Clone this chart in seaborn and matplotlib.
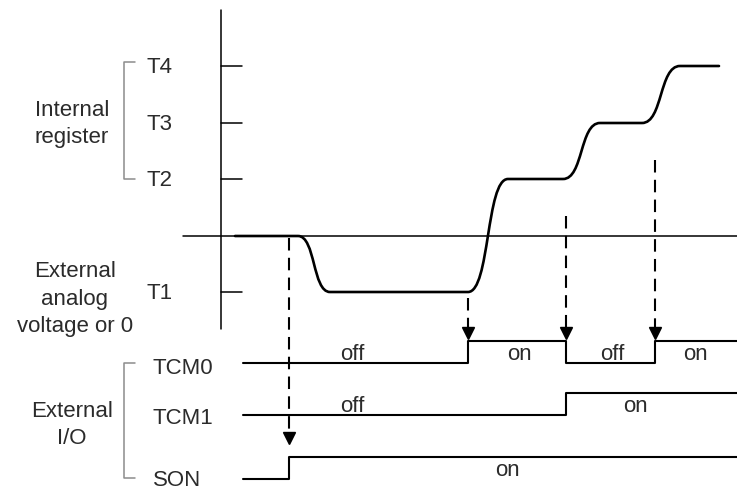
import numpy as np
import pandas as pd
import matplotlib
matplotlib.use("Agg")
import matplotlib.pyplot as plt
import seaborn as sns
from matplotlib.path import Path
from matplotlib.patches import PathPatch

# levels of the internal register / analog input (y in picture units)
level_names = ["T4", "T3", "T2", "T1"]
level_y = [66, 123, 179, 292]
zero_y = 236

# torque curve: plateau corners (time, level)
curve_t = [235, 298, 330, 468, 508, 563, 600, 642, 680, 719]
curve_y = [236, 236, 292, 292, 179, 179, 123, 123, 66, 66]

# digital signals
signal_names = ["TCM0", "TCM1", "SON"]
tcm0_t = [243, 468, 566, 655, 737]
tcm0_on = [0, 1, 0, 1, 1]
tcm1_t = [243, 566, 737]
tcm1_on = [0, 1, 1]
son_t = [243, 289, 737]
son_on = [0, 1, 1]
signal_low = [363, 415, 479]
signal_step = 22

tcm0_text = [(352, "off"), (519, "on"), (612, "off"), (695, "on")]
tcm1_text = [(352, "off"), (635, "on")]
son_text = [(507, "on")]

# dashed trigger arrows
arrow_x = [289, 468, 566, 655]
arrow_from = [238, 298, 216, 160]
arrow_to = [443, 338, 338, 338]

sns.set_style("white")
plt.rcParams["font.family"] = ["Liberation Sans", "DejaVu Sans"]
txt = "#2b2b2b"
grey = "#8c8c8c"
fs = 16

fig = plt.figure(figsize=(7.37, 4.95), dpi=100)
ax = fig.add_axes([0, 0, 1, 1])

# step signals
rows = []
for name, ts, ons, low in zip(signal_names, [tcm0_t, tcm1_t, son_t],
                              [tcm0_on, tcm1_on, son_on], signal_low):
    for t, o in zip(ts, ons):
        rows.append({"signal": name, "t": t, "y": low - o * signal_step})
sig = pd.DataFrame(rows)
sns.lineplot(data=sig, x="t", y="y", hue="signal", units="signal", estimator=None,
             sort=False, drawstyle="steps-post", palette=["black"] * 3,
             lw=1.5, legend=False, ax=ax)
ax.set_xlim(0, 737)
ax.set_ylim(495, 0)
ax.axis("off")

# axes of the analog part
ax.plot([221, 221], [10, 329], color="black", lw=1.1)
ax.plot([183, 737], [zero_y, zero_y], color="black", lw=1.1)
for name, y in zip(level_names, level_y):
    ax.plot([221, 242], [y, y], color="black", lw=1.1)
    ax.text(147, y + 1.5, name, ha="left", va="center", fontsize=fs, color=txt)

# curve: straight plateaus, bezier S-shaped transitions
verts = [(curve_t[0], curve_y[0])]
codes = [Path.MOVETO]
for i in range(1, len(curve_t)):
    t0, y0 = curve_t[i - 1], curve_y[i - 1]
    t1, y1 = curve_t[i], curve_y[i]
    if y0 == y1:
        verts.append((t1, y1))
        codes.append(Path.LINETO)
    else:
        k = 0.55 * (t1 - t0)
        verts += [(t0 + k, y0), (t1 - k, y1), (t1, y1)]
        codes += [Path.CURVE4] * 3
ax.add_patch(PathPatch(Path(verts, codes), fill=False, lw=1.9, edgecolor="black",
                       capstyle="round", joinstyle="round"))

label_y = [368, 418, 481]
for name, y in zip(signal_names, label_y):
    ax.text(153, y, name, ha="left", va="center", fontsize=fs, color=txt)
for texts, low in zip([tcm0_text, tcm1_text, son_text], signal_low):
    for x, s in texts:
        ax.text(x, low - 9, s, ha="center", va="center", fontsize=fs, color=txt)

# dashed arrows
for x, a, b in zip(arrow_x, arrow_from, arrow_to):
    ax.plot([x, x], [a, b - 8], color="black", lw=1.5, linestyle=(0, (6, 3.5)))
    ax.plot([x], [b - 5.5], marker="v", ms=8.5, color="black", mec="black")

# group brackets and group labels
for y0, y1 in [(62, 179), (363, 478)]:
    ax.plot([135, 124, 124, 135], [y0, y0, y1, y1], color=grey, lw=1.1)
ax.text(72, 124, "Internal\nregister", ha="center", va="center", fontsize=fs,
        color=txt, linespacing=1.4)
ax.text(75, 299, "External\nanalog\nvoltage or 0", ha="center", va="center",
        fontsize=fs, color=txt, linespacing=1.42)
ax.text(72, 425, "External\nI/O", ha="center", va="center", fontsize=fs,
        color=txt, linespacing=1.38)

fig.savefig("out.png", dpi=100)
